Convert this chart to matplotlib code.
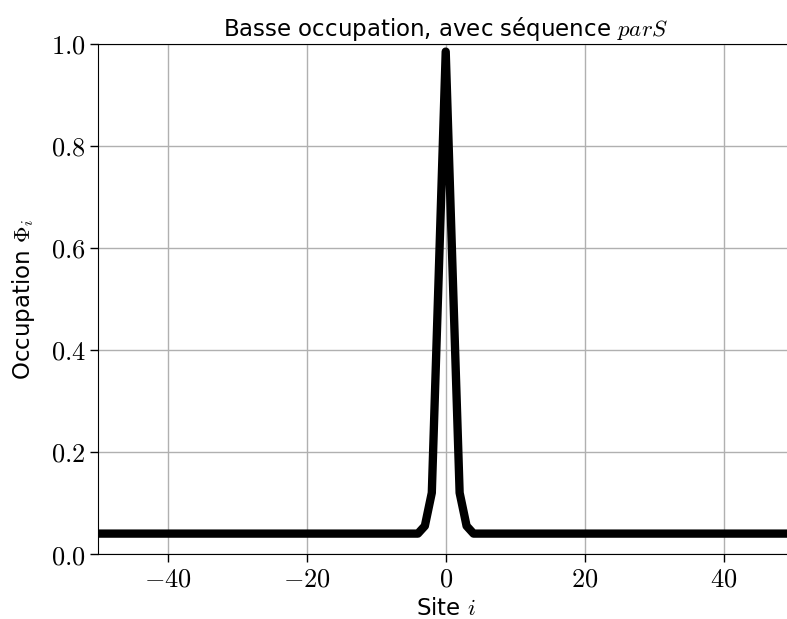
import numpy as np
import matplotlib
matplotlib.use("Agg")
import matplotlib.pyplot as plt
from matplotlib.ticker import FuncFormatter

# Occupation profile per site
sites = list(range(-50, 51))
baseline = 0.04
peak_values = {-3: 0.055, -2: 0.12, -1: 0.55, 0: 0.985, 1: 0.55, 2: 0.12, 3: 0.055}
occupation = [peak_values.get(s, baseline) for s in sites]

x_ticks = [-40, -20, 0, 20, 40]
y_ticks = [0.0, 0.2, 0.4, 0.6, 0.8, 1.0]

plt.rcParams['mathtext.fontset'] = 'cm'
plt.rcParams['font.family'] = ['DejaVu Sans']

fig = plt.figure(figsize=(7.87, 6.19), dpi=100)
ax = fig.add_axes([0.1245, 0.105, 0.8837, 0.824])

ax.plot(sites, occupation, color='black', linewidth=6,
        solid_joinstyle='round', solid_capstyle='round')
ax.set_xlim(-50, 50)
ax.set_ylim(0, 1)
ax.set_xticks(x_ticks)
ax.set_yticks(y_ticks)
ax.xaxis.set_major_formatter(FuncFormatter(lambda v, p: f"${v:.0f}$"))
ax.yaxis.set_major_formatter(FuncFormatter(lambda v, p: f"${v:.1f}$"))
ax.tick_params(labelsize=19, length=5.5, width=1)
ax.grid(True, color='#b0b0b0', linewidth=1)

ax.set_title(r"Basse occupation, avec séquence $parS$", fontsize=16.5)
ax.set_xlabel(r"Site $i$", fontsize=16.5, labelpad=3)
ax.set_ylabel(r"Occupation $\Phi_i$", fontsize=16.5, labelpad=10)

fig.savefig("out.png", dpi=100)
